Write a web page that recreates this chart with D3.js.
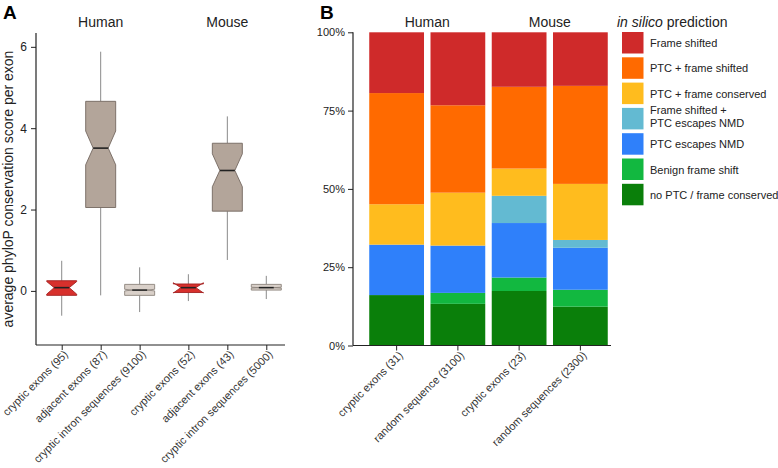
<!DOCTYPE html>
<html><head><meta charset="utf-8">
<script src="https://cdn.jsdelivr.net/npm/d3@7"></script>
<style>
body{margin:0;background:#fff;}
text{font-family:"Liberation Sans",Arial,Helvetica,sans-serif;}
</style></head>
<body><svg id="c" width="778" height="468"></svg>
<script>
// ---------- Panel A data ----------
const boxLabels = ["cryptic exons (95)","adjacent exons (87)","cryptic intron sequences (9100)","cryptic exons (52)","adjacent exons (43)","cryptic intron sequences (5000)"];
const boxPos = [1,2,3,4.25,5.25,6.25];
const boxKind = ["cryptic","adjacent","intron","cryptic","adjacent","intron"];
const whiskLo = [-0.61,-0.11,-0.52,-0.25,0.76,-0.20];
const q1 = [-0.11,2.05,-0.11,-0.04,1.96,0.02];
const median = [0.08,3.51,0.02,0.08,2.96,0.08];
const q3 = [0.25,4.66,0.16,0.17,3.63,0.16];
const whiskHi = [0.74,5.88,0.58,0.41,4.29,0.37];
const notchLo = [-0.08,3.10,0.00,-0.05,2.56,0.07];
const notchHi = [0.23,3.93,0.04,0.20,3.37,0.09];
const speciesA = [{name:"Human",pos:2},{name:"Mouse",pos:5.25}];
const yTicksA = [0,2,4,6];

// ---------- Panel B data ----------
const barLabels = ["cryptic exons (31)","random sequence (3100)","cryptic exons (23)","random sequences (2300)"];
const categories = ["no PTC / frame conserved","Benign frame shift","PTC escapes NMD","Frame shifted + PTC escapes NMD","PTC + frame conserved","PTC + frame shifted","Frame shifted"];
const s_noPTC     = [16.1,13.3,17.4,12.4];
const s_benign    = [0.0, 3.5, 4.3, 5.4];
const s_ptcEsc    = [16.1,15.1,17.4,13.4];
const s_fsPtcEsc  = [0.0, 0.0, 8.7, 2.5];
const s_ptcFc     = [12.9,16.9,8.7,17.9];
const s_ptcFs     = [35.5,27.9,26.1,31.3];
const s_fs        = [19.4,23.3,17.4,17.1];
const yTicksB = [0,25,50,75,100];
const speciesB = [{name:"Human",bars:[0,1]},{name:"Mouse",bars:[2,3]}];
const legendLines = [["Frame shifted"],["PTC + frame shifted"],["PTC + frame conserved"],["Frame shifted +","PTC escapes NMD"],["PTC escapes NMD"],["Benign frame shift"],["no PTC / frame conserved"]];

const svg = d3.select("#c");

// ===== Panel A =====
const xA = d3.scaleLinear().domain([0.34,6.73]).range([36,285]);
const yA = d3.scaleLinear().domain([-1.33,6.34]).range([345,33]);
const fills = {cryptic:"#d7302c", adjacent:"#b3a59a", intron:"#d9d0c9"};
const strokes = {cryptic:"#a32020", adjacent:"#746860", intron:"#8c837c"};

svg.append("text").attr("x",3).attr("y",19).attr("font-size",19).attr("font-weight","bold").text("A");
svg.append("text").attr("x",320).attr("y",19).attr("font-size",19).attr("font-weight","bold").text("B");

const gA = svg.append("g");
const yAxisA = d3.axisLeft(yA).tickValues(yTicksA).tickSize(5).tickPadding(4);
const ya = gA.append("g").attr("transform","translate(36,0)").call(yAxisA);
ya.select(".domain").attr("d","M0,33V345").attr("stroke","#222").attr("stroke-width",1.2);
ya.selectAll("text").attr("font-size",12).attr("fill","#222").style("font-family","Liberation Sans, Arial");
ya.selectAll("line").attr("stroke","#222");
const xAxisA = d3.axisBottom(xA).tickValues(boxPos).tickSize(5).tickFormat("");
const xa = gA.append("g").attr("transform","translate(0,345)").call(xAxisA);
xa.select(".domain").attr("d","M36,0H285").attr("stroke","#222").attr("stroke-width",1.2);
xa.selectAll("line").attr("stroke","#222");
gA.selectAll(".xlabA").data(boxLabels).join("text")
  .attr("transform",(d,i)=>`translate(${xA(boxPos[i])+7},${355}) rotate(-45)`)
  .attr("text-anchor","end").attr("font-size",11).attr("fill","#333").text(d=>d);

svg.append("text").attr("transform","translate(13,189) rotate(-90)").attr("text-anchor","middle")
  .attr("font-size",14).attr("fill","#222").text("average phyloP conservation score per exon");

speciesA.forEach(s=>{
  svg.append("text").attr("x",xA(s.pos)).attr("y",27).attr("text-anchor","middle").attr("font-size",14).attr("fill","#222").text(s.name);
});

const halfW = 15;
boxPos.forEach((p,i)=>{
  const cx = xA(p), k = boxKind[i];
  const g = gA.append("g");
  g.append("line").attr("x1",cx).attr("x2",cx).attr("y1",yA(whiskHi[i])).attr("y2",yA(q3[i])).attr("stroke","#8a8a8a").attr("stroke-width",1);
  g.append("line").attr("x1",cx).attr("x2",cx).attr("y1",yA(q1[i])).attr("y2",yA(whiskLo[i])).attr("stroke","#8a8a8a").attr("stroke-width",1);
  const nw = halfW*0.5;
  const pts = [
    [cx-halfW,yA(q3[i])],[cx+halfW,yA(q3[i])],[cx+halfW,yA(notchHi[i])],[cx+nw,yA(median[i])],
    [cx+halfW,yA(notchLo[i])],[cx+halfW,yA(q1[i])],[cx-halfW,yA(q1[i])],[cx-halfW,yA(notchLo[i])],
    [cx-nw,yA(median[i])],[cx-halfW,yA(notchHi[i])]
  ];
  g.append("path").attr("d",d3.line()(pts)+"Z").attr("fill",fills[k]).attr("stroke",strokes[k]).attr("stroke-width",0.9);
  g.append("line").attr("x1",cx-nw).attr("x2",cx+nw).attr("y1",yA(median[i])).attr("y2",yA(median[i])).attr("stroke","#222").attr("stroke-width",1.6);
});

// ===== Panel B =====
const xB = d3.scaleBand().domain(d3.range(barLabels.length)).range([366,611]).paddingInner(0.106).paddingOuter(0.053);
const yB = d3.scaleLinear().domain([0,100]).range([345.5,32.3]);
const colors = {
  "Frame shifted":"#cf2a2a",
  "PTC + frame shifted":"#ff6a00",
  "PTC + frame conserved":"#ffbc1e",
  "Frame shifted + PTC escapes NMD":"#63bad2",
  "PTC escapes NMD":"#2f80fa",
  "Benign frame shift":"#12b840",
  "no PTC / frame conserved":"#0a7f0a"
};
const series = [s_noPTC,s_benign,s_ptcEsc,s_fsPtcEsc,s_ptcFc,s_ptcFs,s_fs];
const rows = barLabels.map((b,j)=>{const o={bar:j};categories.forEach((c,ci)=>o[c]=series[ci][j]);return o;});
const stacked = d3.stack().keys(categories).offset(d3.stackOffsetExpand)(rows);

const gB = svg.append("g");
stacked.forEach(layer=>{
  gB.selectAll(null).data(layer).join("rect")
    .attr("x",d=>xB(d.data.bar)).attr("width",xB.bandwidth())
    .attr("y",d=>yB(d[1]*100)).attr("height",d=>Math.max(0,yB(d[0]*100)-yB(d[1]*100)))
    .attr("fill",colors[layer.key]);
});

const yAxisB = d3.axisLeft(yB).tickValues(yTicksB).tickFormat(d=>d+"%").tickSize(5).tickPadding(3);
const yb = gB.append("g").attr("transform","translate(353,0)").call(yAxisB);
yb.select(".domain").attr("d","M0,32.3V345.5").attr("stroke","#222").attr("stroke-width",1.2);
yb.selectAll("text").attr("font-size",11).attr("fill","#222").style("font-family","Liberation Sans, Arial");
yb.selectAll("line").attr("stroke","#222");

const xAxisB = d3.axisBottom(xB).tickSize(5).tickFormat("");
const xb = gB.append("g").attr("transform","translate(0,345.5)").call(xAxisB);
xb.select(".domain").attr("d","M353,0H611").attr("stroke","#222").attr("stroke-width",1.2);
xb.selectAll("line").attr("stroke","#222");
gB.selectAll(".xlabB").data(barLabels).join("text")
  .attr("transform",(d,i)=>`translate(${xB(i)+xB.bandwidth()/2+7},${356}) rotate(-45)`)
  .attr("text-anchor","end").attr("font-size",11).attr("fill","#333").text(d=>d);

speciesB.forEach(s=>{
  const x0 = xB(s.bars[0]), x1 = xB(s.bars[1])+xB.bandwidth();
  svg.append("text").attr("x",(x0+x1)/2).attr("y",27).attr("text-anchor","middle").attr("font-size",14).attr("fill","#222").text(s.name);
});

const lg = svg.append("g");
const lt = lg.append("text").attr("x",617).attr("y",27).attr("font-size",14).attr("fill","#222");
lt.append("tspan").attr("font-style","italic").text("in silico");
lt.append("tspan").text(" prediction");
const legendKeys = categories.slice().reverse();
legendKeys.forEach((k,i)=>{
  const y0 = 32 + i*25.3;
  lg.append("rect").attr("x",622).attr("y",y0).attr("width",21.5).attr("height",21.5).attr("fill",colors[k]);
  const lines = legendLines[i];
  lines.forEach((ln,li)=>{
    const yy = lines.length===1 ? y0+15 : y0 + 6 + li*13.5;
    lg.append("text").attr("x",650).attr("y",yy).attr("font-size",11).attr("fill","#222").text(ln);
  });
});
</script></body></html>
